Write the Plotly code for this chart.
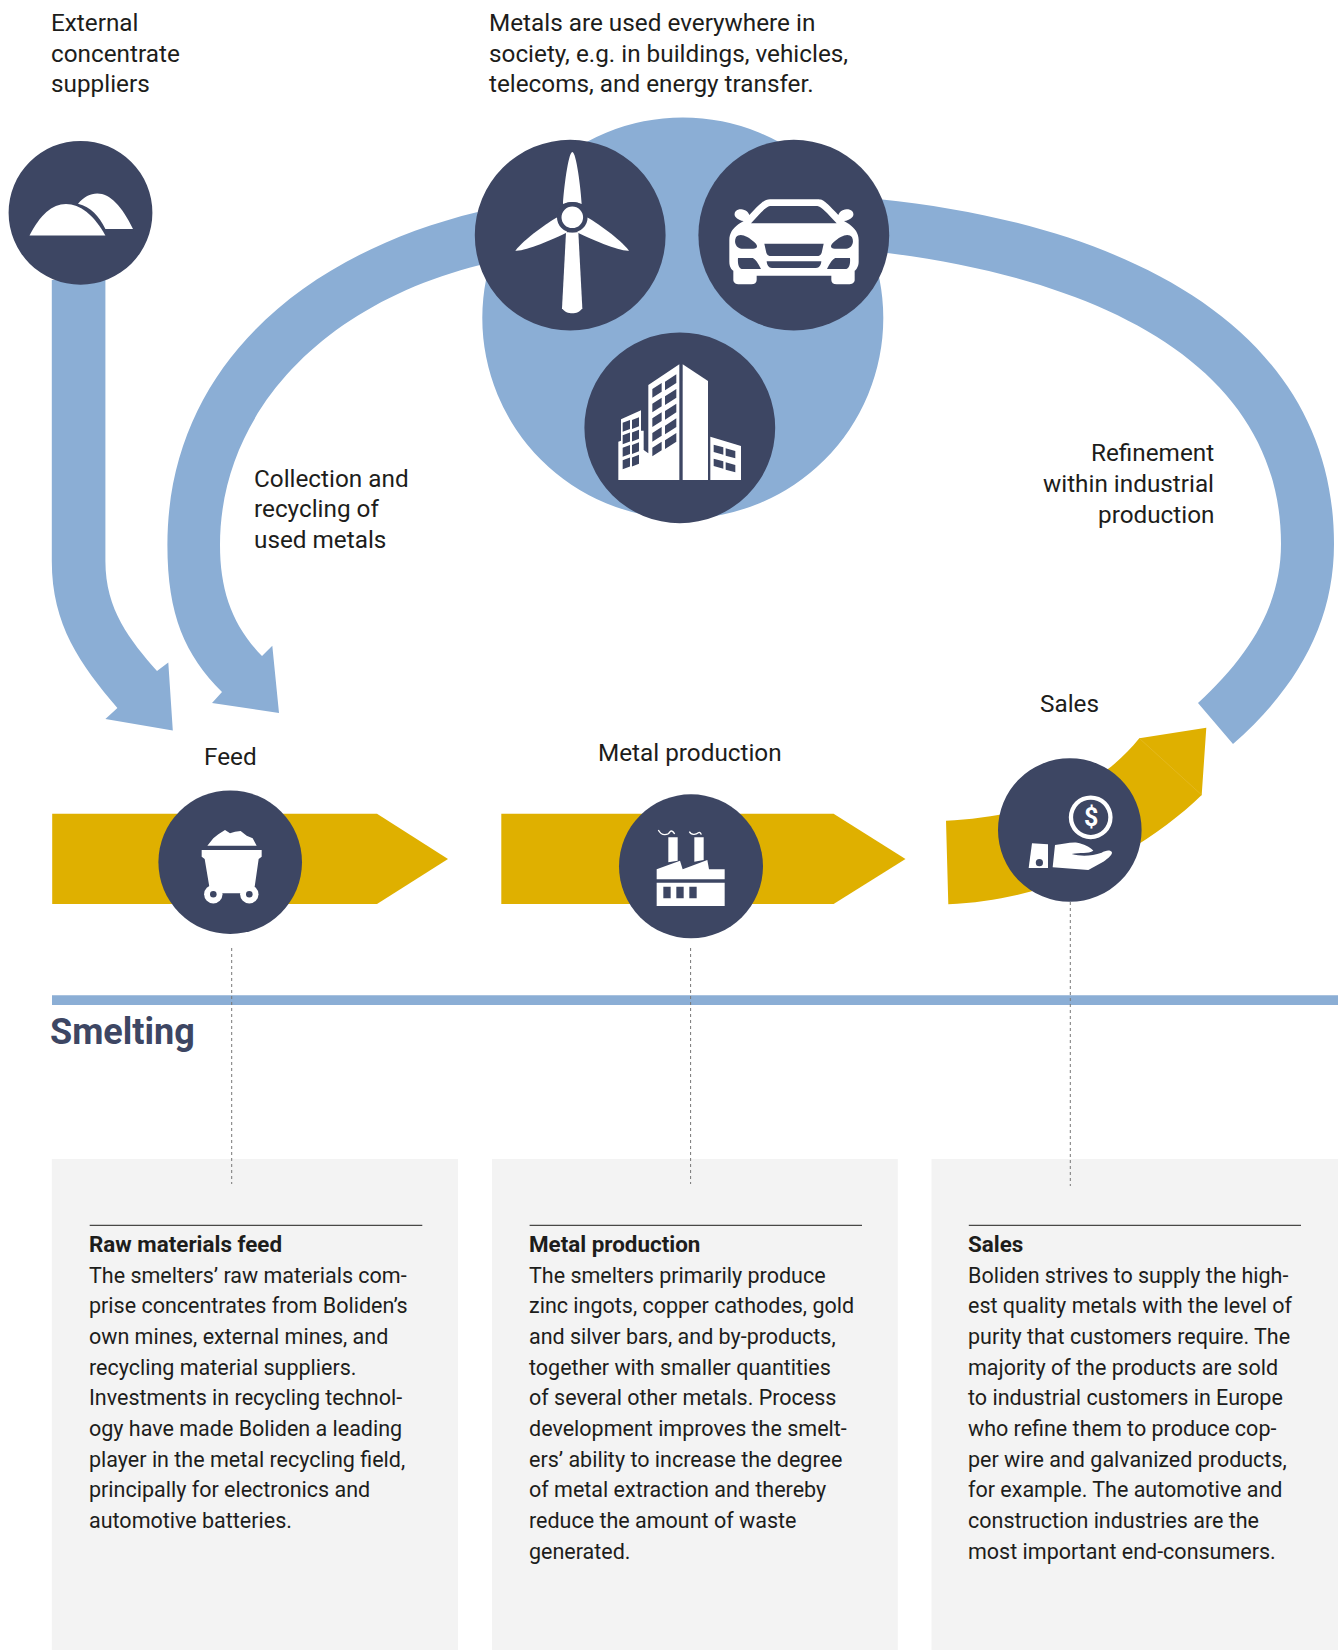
import re
import plotly.graph_objects as go

# ---------- text content ----------
supplier_lines = ["External", "concentrate", "suppliers"]
society_lines = ["Metals are used everywhere in", "society, e.g. in buildings, vehicles,", "telecoms, and energy transfer."]
collection_lines = ["Collection and", "recycling of", "used metals"]
refinement_lines = ["Refinement", "within industrial", "production"]
stage_labels = ["Feed", "Metal production", "Sales"]
section_title = "Smelting"
panel_titles = ["Raw materials feed", "Metal production", "Sales"]
panel_feed = ["The smelters\u2019 raw materials com-", "prise concentrates from Boliden\u2019s", "own mines, external mines, and",
              "recycling material suppliers.", "Investments in recycling technol-", "ogy have made Boliden a leading",
              "player in the metal recycling field,", "principally for electronics and", "automotive batteries."]
panel_metal = ["The smelters primarily produce", "zinc ingots, copper cathodes, gold", "and silver bars, and by-products,",
               "together with smaller quantities", "of several other metals. Process", "development improves the smelt-",
               "ers\u2019 ability to increase the degree", "of metal extraction and thereby", "reduce the amount of waste", "generated."]
panel_sales = ["Boliden strives to supply the high-", "est quality metals with the level of", "purity that customers require. The",
               "majority of the products are sold", "to industrial customers in Europe", "who refine them to produce cop-",
               "per wire and galvanized products,", "for example. The automotive and", "construction industries are the",
               "most important end-consumers."]

BLUE = "#8BAED5"; DARK = "#3D4663"; GOLD = "#DFB000"; PANEL = "#F3F3F3"; INK = "#1D1D1B"; WHITE = "#FFFFFF"
FONT = "Roboto"
shapes = []
ann = []


def tf(path, ox, oy, sx=1.0 / 3, sy=1.0 / 3):
    return re.sub(r"(-?[\d.]+),(-?[\d.]+)",
                  lambda m: f"{ox + float(m[1]) * sx:.2f},{oy + float(m[2]) * sy:.2f}", path)


def fill(path, color):
    shapes.append(dict(type="path", path=path, fillcolor=color, line=dict(width=0), layer="above"))


def disc(cx, cy, r, color):
    shapes.append(dict(type="circle", x0=cx - r, x1=cx + r, y0=cy - r, y1=cy + r,
                       fillcolor=color, line=dict(width=0), layer="above"))


def rect(x0, y0, x1, y1, color):
    shapes.append(dict(type="rect", x0=x0, x1=x1, y0=y0, y1=y1, fillcolor=color, line=dict(width=0), layer="above"))


def seg(x0, y0, x1, y1, color, width=1, dash="solid"):
    shapes.append(dict(type="line", x0=x0, x1=x1, y0=y0, y1=y1, line=dict(color=color, width=width, dash=dash), layer="above"))


def text(x, y, s, size, anchor="left", color=INK, bold=False):
    ann.append(dict(x=x, y=y - 0.9, text=f"<b>{s}</b>" if bold else s, showarrow=False, xanchor=anchor, yanchor="middle",
                    borderpad=0, font=dict(family=FONT, size=size, color=color)))


# ---------- grey panels ----------
rect(51.8, 1159, 458, 1650, PANEL)
rect(492, 1159, 897.8, 1650, PANEL)
rect(931.5, 1159, 1338, 1650, PANEL)

# ---------- blue flow ----------
disc(682.8, 318, 200.5, BLUE)
fill("M51.8,280 L105.4,280 L105.4,561 C105.4,610 130,640 157,671 L168.3,662.4 L172.8,730.6 L105.4,719 L117.4,708 "
     "C80,664 51.8,625 51.8,561 Z", BLUE)
fill("M477.7,212 C300,255 167.4,370 167.4,545 C167.4,615 185,655 222,692 L212,703 L279,713 L272.3,645.7 L262,656 "
     "C232,625 220,590 220,545 C220,415 320,305 480,265 Z", BLUE)
fill("M880,199.2 C1130,225 1334,330 1334,544 C1334,620 1300,685 1233,744 L1198,703 C1250,655 1281,605 1281,544 "
     "C1281,370 1110,280 880,252 Z", BLUE)

# ---------- gold process arrows ----------
fill("M52.2,813.7 L377,813.7 L448,859 L377,904 L52.2,904 Z", GOLD)
fill("M501.3,813.7 L833.6,813.7 L905.5,859 L833.6,904 L501.3,904 Z", GOLD)
fill("M946,820.7 C1010,818 1090,800 1139.3,738.3 L1206.3,727.7 L1201.7,795 C1150,845 1060,900 948.3,904.3 Z", GOLD)
seg(1139.3, 738.3, 1201.7, 795, "#E5BC2A", 0.7)

# ---------- section rule ----------
rect(52, 995.3, 1338, 1005, BLUE)

# ---------- dotted leaders ----------
for lx, ly, ly1 in ((231.7, 948, 1184), (690.6, 948, 1184), (1070.3, 902, 1186)):
    seg(lx, ly, lx, ly1, "#777777", 1, "3px,3px")

# ---------- dark badges ----------
disc(80.5, 212.8, 71.9, DARK)
disc(570.2, 235.2, 95.4, DARK)
disc(793.8, 235.2, 95.4, DARK)
disc(679.8, 427.8, 95.4, DARK)
disc(230.2, 862.2, 71.8, DARK)
disc(691, 866.3, 72, DARK)
disc(1069.8, 830, 71.8, DARK)

# ---------- icon: mounds ----------
fill("M29.5,235.5 C40,215 52,204 66,204 C80,204 94,215 105.4,235.5 Z", WHITE)
fill("M78,203.7 C84,197 90,193.5 97.3,193.5 C110,193.5 122,206 133,229 L105.4,229 C99,216 91,207 78,203.7 Z", WHITE)

# ---------- icon: wind turbine (crop space 460,120) ----------
W = (460, 120)
fill(tf("M337,96 C325,96 311,210 309,252 C325,244 350,244 365,252 C363,210 349,96 337,96 Z", *W), WHITE)
fill(tf("M166,392 C195,355 260,310 298,288 L322,337 C275,360 195,395 166,392 Z", *W), WHITE)
fill(tf("M507,392 C478,355 413,310 375,288 L351,337 C398,360 478,395 507,392 Z", *W), WHITE)
fill(tf("M318,337 L355,337 L367,565 C360,576 348,580 337,580 C325,580 313,576 306,565 Z", *W), WHITE)
disc(572.3, 217.3, 15.3, DARK)
disc(572.3, 217.3, 10.8, WHITE)

# ---------- icon: car (crop space 460,120) ----------
car = ("M930,238 L1074,238 C1090,238 1098,246 1135,285 C1140,272 1150,268 1165,268 C1178,270 1184,282 1178,290 "
       "C1172,298 1160,302 1152,303 L1167,312 C1185,325 1196,340 1196,360 L1196,425 C1196,440 1188,450 1184,452 "
       "L1184,480 C1184,488 1176,493 1165,493 L1130,493 C1120,493 1114,488 1114,480 L1114,467 L890,467 L890,480 "
       "C890,488 884,493 874,493 L838,493 C828,493 820,488 820,480 L820,452 C814,448 808,440 808,425 L808,360 "
       "C808,340 818,325 836,312 L851,303 C843,302 832,298 826,290 C820,282 826,270 838,268 C853,268 863,272 868,285 "
       "C905,246 914,238 930,238 Z "
       "M930,258 L1072,258 C1085,260 1100,278 1130,310 L873,310 C900,280 918,260 930,258 Z "
       "M828,352 C838,338 860,345 885,368 C895,378 892,386 880,386 L845,386 C830,386 820,368 828,352 Z "
       "M1176,352 C1166,338 1144,345 1119,368 C1109,378 1112,386 1124,386 L1159,386 C1174,386 1184,368 1176,352 Z "
       "M913,371 L1091,371 L1085,398 C1083,405 1078,408 1072,408 L932,408 C926,408 921,405 919,398 Z "
       "M920,424 L1084,424 C1083,436 1078,444 1068,444 L936,444 C926,444 921,436 920,424 Z "
       "M834,414 L878,414 C885,416 895,430 903,447 L848,447 C840,447 832,438 834,414 Z "
       "M1170,414 L1126,414 C1119,416 1109,430 1101,447 L1156,447 C1164,447 1172,438 1170,414 Z")
fill(tf(car, *W), WHITE)

# ---------- icon: buildings (crop space 460,120) ----------
b = "M475,1080 L475,965 L483,962 L483,898 L543,871 L543,932 L551,932 L551,990 L565,1000 L565,795 L658,733 L658,1080 Z "


def win(x0, x1, y0, drop, h):
    return f"M{x0},{y0} L{x1},{y0 + drop} L{x1},{y0 + drop + h} L{x0},{y0 + h} Z "


for i in range(5):
    b += win(577, 605, 807 + 44 * i, -18, 26)
    b += win(615, 649, 785 + 44 * i, -22, 26)
for i in range(4):
    b += win(488, 510, 908 + 37.5 * i, -8, 27)
    b += win(516, 537, 900 + 37.5 * i, -8, 27)
fill(tf(b, *W), WHITE)
fill(tf("M668,733 L744,783 L744,1080 L668,1080 Z", *W), WHITE)
s = "M751,950 L843,978 L843,1080 L751,1080 Z "
for i in range(2):
    s += win(761, 790, 974 + 42 * i, 8, 22)
    s += win(797, 826, 985 + 42 * i, 8, 22)
fill(tf(s, *W), WHITE)

# ---------- icon: mine cart (crop space 180,815) ----------
C = (180, 815)
fill(tf("M82,92 L100,70 L115,58 L135,45 L150,55 L165,50 L182,48 L200,62 L218,70 L230,92 Z", *C), WHITE)
fill(tf("M65,105 L245,105 L245,125 L236,132 L224,215 L190,235 L122,235 L88,215 L74,132 L65,125 Z", *C), WHITE)
for wx in (213.3, 249.3):
    disc(wx, 894.3, 9.2, WHITE)
    disc(wx, 894.3, 3.3, DARK)

# ---------- icon: factory (crop space 630,810) ----------
F = (630, 810)
fill(tf("M115,82 L143,82 L143,152 L115,157 Z", *F), WHITE)
fill(tf("M193,82 L221,82 L221,150 L193,155 Z", *F), WHITE)
fill(tf("M80,178 L150,152 L158,178 L232,150 L237,178 L284,178 L284,208 L80,208 Z", *F), WHITE)
fill(tf("M80,218 L284,218 L284,288 L80,288 Z M100,230 L122,230 L122,265 L100,265 Z "
        "M139,230 L161,230 L161,265 L139,265 Z M178,230 L200,230 L200,265 L178,265 Z", *F), WHITE)
for smoke in ("M85,60 C95,80 115,75 120,65 C125,60 130,65 134,72", "M178,65 C185,78 200,72 205,68 C208,66 212,68 214,74"):
    shapes.append(dict(type="path", path=tf(smoke, *F), line=dict(color=WHITE, width=1.3), layer="above"))

# ---------- icon: hand with coin (crop space 1020,780) ----------
H = (1020, 780)
disc(1090.7, 817.3, 21.9, WHITE)
disc(1090.7, 817.3, 17.6, DARK)
fill(tf("M36,190 L84,193 L84,264 L26,264 Z", *H), WHITE)
disc(1039.4, 862.7, 3.6, DARK)
fill(tf("M105,195 C130,192 150,186 172,188 C190,192 210,200 220,212 C205,222 180,216 155,222 C185,230 215,228 245,218 "
        "C255,212 268,208 275,215 C280,222 265,235 250,245 L205,270 L98,262 Z", *H), WHITE)
text(1090.7, 818.7, "$", 25, "center", WHITE, True)

# ---------- labels ----------
LABEL = 24.3
for y, t in zip((23, 54, 84.5), supplier_lines):
    text(49.7, y, t, LABEL)
for y, t in zip((23, 54, 84.5), society_lines):
    text(488, y, t, LABEL)
for y, t in zip((479, 509.5, 540), collection_lines):
    text(253.3, y, t, LABEL)
for y, t in zip((453.5, 484.5, 515.5), refinement_lines):
    text(1214.5, y, t, LABEL, "right")
for (x, y), t in zip(((230, 757), (690.4, 753.5), (1069.3, 704)), stage_labels):
    text(x, y, t, LABEL, "center")
text(48.5, 1032.9, section_title, 36, "left", DARK, True)

# ---------- panels ----------
for (x0, x1), title, lines in zip(((89.7, 422.3), (529.6, 862), (968.8, 1301)), panel_titles,
                                  (panel_feed, panel_metal, panel_sales)):
    seg(x0, 1225.3, x1, 1225.3, INK, 1)
    text(x0 - 1.5, 1245, title, 22.4, "left", INK, True)
    for i, t in enumerate(lines):
        text(x0 - 1.5, 1276 + 30.67 * i, t, 21.5)

fig = go.Figure()
fig.update_layout(width=1343, height=1650, autosize=False, margin=dict(l=0, r=0, t=0, b=0, pad=0),
                  paper_bgcolor=WHITE, plot_bgcolor=WHITE, showlegend=False,
                  xaxis=dict(range=[0, 1343], visible=False, fixedrange=True),
                  yaxis=dict(range=[1650, 0], visible=False, fixedrange=True),
                  shapes=shapes, annotations=ann)
fig.write_html("out.html", config={"displayModeBar": False},
               post_script="document.body.style.margin='0';document.body.style.background='#fff';")
